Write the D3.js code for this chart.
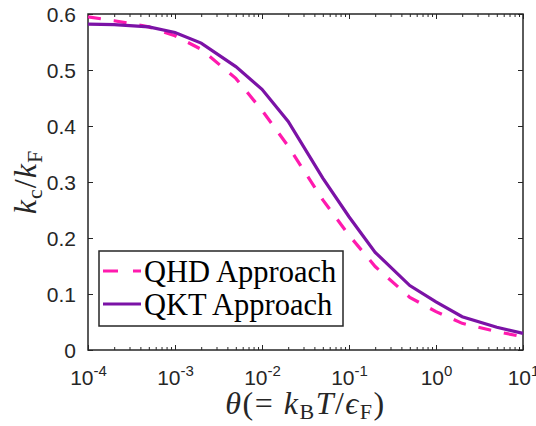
<!DOCTYPE html>
<html>
<head>
<meta charset="utf-8">
<script src="https://cdn.jsdelivr.net/npm/d3@7"></script>
<style>
  body { margin: 0; background: #fff; }
  svg { display: block; }
  .tick text { font-family: "Liberation Sans", Arial, sans-serif; fill: #262626; }
  .math { font-family: "Liberation Serif", "Times New Roman", serif; fill: #262626; }
</style>
</head>
<body>
<div id="chart"></div>
<script>
// data
var theta = [1e-4, 2e-4, 5e-4, 1e-3, 2e-3, 5e-3, 1e-2, 2e-2, 5e-2, 0.1, 0.2, 0.5, 1, 2, 5, 10];
var qhd = [0.595, 0.588, 0.577, 0.561, 0.537, 0.485, 0.428, 0.364, 0.268, 0.205, 0.149, 0.094, 0.0685, 0.0476, 0.0327, 0.0238];
var qkt = [0.582, 0.581, 0.577, 0.567, 0.548, 0.506, 0.4655, 0.408, 0.307, 0.238, 0.1744, 0.115, 0.086, 0.0595, 0.0405, 0.0297];
var xMajor = [1e-4, 1e-3, 1e-2, 1e-1, 1, 10];
var xExp = ["-4", "-3", "-2", "-1", "0", "1"];
var yTicks = [0, 0.1, 0.2, 0.3, 0.4, 0.5, 0.6];
var seriesNames = ["QHD Approach", "QKT Approach"];

var W = 536, H = 426;
var margin = {top: 14, right: 13, bottom: 76, left: 88};
var width = W - margin.left - margin.right,
    height = H - margin.top - margin.bottom;
var axisColor = "#262626";

var svg = d3.select("#chart").append("svg")
  .attr("width", W)
  .attr("height", H);

var g = svg.append("g").attr("transform", "translate(" + margin.left + "," + margin.top + ")");

var x = d3.scaleLog().domain([1e-4, 10]).range([0, width]);
var y = d3.scaleLinear().domain([0, 0.6]).range([height, 0]);

// minor ticks 2..9 in every decade
var xMinor = [];
xMajor.slice(0, -1).forEach(function (d) {
  for (var k = 2; k <= 9; k++) xMinor.push(d * k);
});

function styleAxis(sel) {
  sel.select(".domain").remove();
  sel.selectAll(".tick line").attr("stroke", axisColor).attr("stroke-width", 1);
}

// bottom + top
g.append("g").attr("transform", "translate(0," + height + ")")
  .call(d3.axisBottom(x).tickValues(xMinor).tickSize(-3).tickFormat(""))
  .call(styleAxis);
g.append("g")
  .call(d3.axisTop(x).tickValues(xMinor).tickSize(-3).tickFormat(""))
  .call(styleAxis);
var xb = g.append("g").attr("transform", "translate(0," + height + ")")
  .call(d3.axisBottom(x).tickValues(xMajor).tickSize(-5).tickFormat(""))
  .call(styleAxis);
g.append("g")
  .call(d3.axisTop(x).tickValues(xMajor).tickSize(-5).tickFormat(""))
  .call(styleAxis);

xb.selectAll(".tick").each(function (d, i) {
  var t = d3.select(this).append("text")
    .attr("y", 35)
    .attr("text-anchor", "middle")
    .style("font-size", "21px")
    .attr("fill", axisColor);
  t.append("tspan").text("10");
  t.append("tspan").style("font-size", "15px").attr("dy", -9).text(xExp[i]);
});

// left + right
g.append("g")
  .call(d3.axisLeft(y).tickValues(yTicks).tickSize(-5).tickPadding(12).tickFormat(d3.format("")))
  .call(styleAxis)
  .selectAll(".tick text").style("font-size", "21px").attr("dy", "0.36em");
g.append("g").attr("transform", "translate(" + width + ",0)")
  .call(d3.axisRight(y).tickValues(yTicks).tickSize(-5).tickFormat(""))
  .call(styleAxis);

// frame
g.append("rect")
  .attr("width", width).attr("height", height)
  .attr("fill", "none").attr("stroke", axisColor).attr("stroke-width", 1.5);

// curves
var line = d3.line()
  .x(function (d) { return x(d[0]); })
  .y(function (d) { return y(d[1]); });

var colors = ["#ff1aae", "#7b12a6"];
var dashes = ["13,13", null];
var series = [qhd, qkt];

series.forEach(function (s, i) {
  g.append("path")
    .datum(theta.map(function (t, j) { return [t, s[j]]; }))
    .attr("fill", "none")
    .attr("stroke", colors[i])
    .attr("stroke-width", 3.2)
    .attr("stroke-dasharray", dashes[i])
    .attr("d", line);
});

// legend
var leg = svg.append("g").attr("transform", "translate(99,251)");
leg.append("rect")
  .attr("width", 244).attr("height", 75)
  .attr("fill", "#fff").attr("stroke", axisColor).attr("stroke-width", 1.5);
seriesNames.forEach(function (name, i) {
  var cy = 20 + i * 33;
  leg.append("line")
    .attr("x1", 4).attr("x2", 42).attr("y1", cy).attr("y2", cy)
    .attr("stroke", colors[i]).attr("stroke-width", 3.2)
    .attr("stroke-dasharray", i === 0 ? "15,15" : null);
  leg.append("text")
    .attr("class", "math")
    .attr("x", 45).attr("y", cy + 11)
    .attr("font-size", 30.5)
    .style("fill", "#000")
    .text(name);
});

// x label
var xl = svg.append("text")
  .attr("class", "math")
  .attr("x", margin.left + width / 2)
  .attr("y", 414)
  .attr("text-anchor", "middle")
  .attr("font-size", 32)
  .attr("letter-spacing", 1.5);
xl.append("tspan").attr("font-style", "italic").text("θ");
xl.append("tspan").text("(= ");
xl.append("tspan").attr("font-style", "italic").text("k");
xl.append("tspan").attr("font-size", 22).attr("dy", 5).text("B");
xl.append("tspan").attr("font-style", "italic").attr("dy", -5).text("T");
xl.append("tspan").text("/");
xl.append("tspan").attr("font-style", "italic").text("ϵ");
xl.append("tspan").attr("font-size", 22).attr("dy", 5).text("F");
xl.append("tspan").attr("dy", -5).text(")");

// y label
var yl = svg.append("text")
  .attr("class", "math")
  .attr("transform", "translate(36," + (margin.top + height / 2) + ") rotate(-90)")
  .attr("text-anchor", "middle")
  .attr("font-size", 32)
  .attr("letter-spacing", 1);
yl.append("tspan").attr("font-style", "italic").text("k");
yl.append("tspan").attr("font-size", 22).attr("dy", 6).text("c");
yl.append("tspan").attr("dy", -6).text("/");
yl.append("tspan").attr("font-style", "italic").text("k");
yl.append("tspan").attr("font-size", 22).attr("dy", 6).text("F");
</script>
</body>
</html>
